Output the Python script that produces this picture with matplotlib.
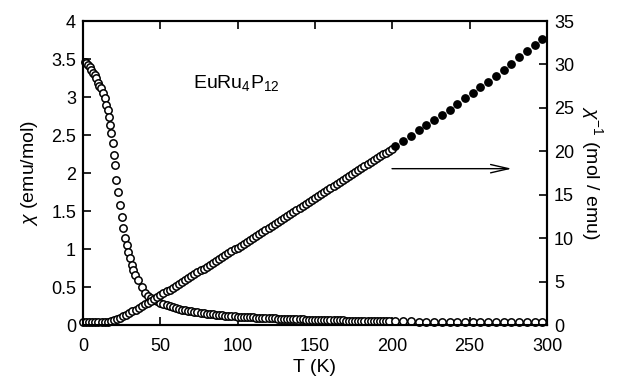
import numpy as np
import matplotlib.pyplot as plt

plt.rcParams['font.family'] = ['Liberation Sans', 'DejaVu Sans']
plt.rcParams['mathtext.fontset'] = 'custom'
plt.rcParams['mathtext.rm'] = 'Liberation Sans'
plt.rcParams['mathtext.it'] = 'Liberation Sans:italic'

# chi (open circles), low T part read point by point
T_chi_low = [1, 2, 3.2, 4.5, 5.5, 6.5, 7.5, 8.4, 9.7, 10.6, 11.6, 12.9, 14.2, 15, 16, 16.7,
             17.5, 18.2, 19.4, 20.3, 20.8, 21.3, 22.6, 23.9, 25.2, 25.9, 27, 28.4, 29,
             30.4, 31.7, 32.3, 33.6, 35.6, 38]
chi_low = [3.46, 3.45, 3.42, 3.39, 3.36, 3.32, 3.29, 3.25, 3.18, 3.15, 3.12, 3.05, 2.99,
           2.89, 2.83, 2.74, 2.63, 2.53, 2.39, 2.24, 2.10, 1.91, 1.75, 1.58, 1.42, 1.28,
           1.14, 1.05, 0.96, 0.88, 0.79, 0.72, 0.66, 0.59, 0.50]

# dense part 40..198 K (2 K steps)
T_dense_chi = np.arange(40, 200, 2)
chi_dense = [0.420, 0.386, 0.357, 0.332, 0.311, 0.292, 0.274, 0.259, 0.245, 0.233,
             0.221, 0.211, 0.202, 0.193, 0.185, 0.178, 0.171, 0.165, 0.159, 0.154,
             0.149, 0.144, 0.140, 0.135, 0.132, 0.128, 0.124, 0.121, 0.118, 0.115,
             0.112, 0.109, 0.107, 0.104, 0.102, 0.099, 0.097, 0.095, 0.093, 0.091,
             0.089, 0.087, 0.086, 0.084, 0.083, 0.081, 0.080, 0.078, 0.077, 0.075,
             0.074, 0.073, 0.072, 0.071, 0.069, 0.068, 0.067, 0.066, 0.065, 0.064,
             0.063, 0.063, 0.062, 0.061, 0.060, 0.059, 0.058, 0.058, 0.057, 0.056,
             0.055, 0.055, 0.054, 0.053, 0.053, 0.052, 0.052, 0.051, 0.050, 0.050]

# inverse chi, dense part 0..200 K (2 K steps)
T_dense_inv = np.arange(0, 202, 2)
inv_dense = [0.29, 0.29, 0.30, 0.30, 0.31, 0.32, 0.33, 0.35, 0.38, 0.44, 0.55, 0.70,
             0.86, 1.03, 1.21, 1.39, 1.58, 1.77, 1.97, 2.17, 2.38, 2.59, 2.80, 3.01,
             3.22, 3.43, 3.65, 3.86, 4.08, 4.30, 4.52, 4.74, 4.96, 5.18, 5.40, 5.62,
             5.84, 6.06, 6.28, 6.50, 6.72, 6.94, 7.16, 7.38, 7.60, 7.82, 8.04, 8.26,
             8.48, 8.70, 8.92, 9.15, 9.38, 9.60, 9.83, 10.06, 10.29, 10.52, 10.74,
             10.97, 11.20, 11.43, 11.66, 11.88, 12.11, 12.34, 12.57, 12.80, 13.02,
             13.25, 13.48, 13.71, 13.94, 14.16, 14.39, 14.62, 14.85, 15.08, 15.30,
             15.53, 15.76, 15.99, 16.22, 16.44, 16.67, 16.90, 17.13, 17.36, 17.58,
             17.81, 18.04, 18.27, 18.50, 18.72, 18.95, 19.18, 19.41, 19.64, 19.86,
             20.09, 20.32]

# high T part, 5 K steps
T_high = np.arange(202, 300, 5)
chi_high = [0.049, 0.048, 0.047, 0.046, 0.045, 0.045, 0.044, 0.043, 0.043, 0.042,
            0.042, 0.041, 0.041, 0.040, 0.040, 0.039, 0.039, 0.038, 0.038, 0.038]
inv_high = [20.6, 21.2, 21.8, 22.4, 23.0, 23.6, 24.2, 24.8, 25.4, 26.1,
            26.7, 27.4, 28.0, 28.7, 29.4, 30.1, 30.8, 31.5, 32.2, 32.9]

fig = plt.figure(figsize=(6.23, 3.76), dpi=100)
ax = fig.add_axes([0.1332, 0.1356, 0.7448, 0.8085])
ax2 = ax.twinx()

ms = 5.3
circ = dict(ls='none', marker='o', ms=ms, mfc='white', mec='black', mew=1.1, clip_on=False)
ax.plot(T_chi_low, chi_low, zorder=3, **circ)
ax.plot(T_dense_chi, chi_dense, zorder=3, **circ)
ax.plot(T_high, chi_high, zorder=3, **circ)

ax2.plot(T_dense_inv, inv_dense, **circ)
ax2.plot(T_high, inv_high, 'o', ms=ms, mfc='black', mec='black', clip_on=False)

ax.set_xlim(0, 300)
ax.set_ylim(0, 4)
ax2.set_ylim(0, 35)
ax.set_xticks(np.arange(0, 301, 50))
ax.set_yticks(np.arange(0, 4.01, 0.5))
ax.set_yticklabels(['0', '0.5', '1', '1.5', '2', '2.5', '3', '3.5', '4'])
ax2.set_yticks(np.arange(0, 36, 5))

ax.tick_params(direction='in', length=6, width=1.2, labelsize=13, top=True, pad=5)
ax.tick_params(axis='x', pad=9)
ax2.tick_params(direction='in', length=6, width=1.2, labelsize=13, pad=5)
for a in (ax, ax2):
    for s in a.spines.values():
        s.set_linewidth(1.5)

ax.set_xlabel('T (K)', fontsize=14, labelpad=3)
ax.set_ylabel(r'$\chi$ (emu/mol)', fontsize=14, labelpad=8)
ax2.set_ylabel(r'$\chi^{-1}$ (mol / emu)', fontsize=14, rotation=270, labelpad=22)

ax.text(71, 3.12, r'EuRu$_4$P$_{12}$', fontsize=14, va='baseline', ha='left')

ax2.annotate('', xy=(279, 18), xytext=(198, 18),
             arrowprops=dict(arrowstyle='->,head_length=1.3,head_width=0.3', lw=1.0, color='black'))

fig.savefig('out.png', dpi=100)
